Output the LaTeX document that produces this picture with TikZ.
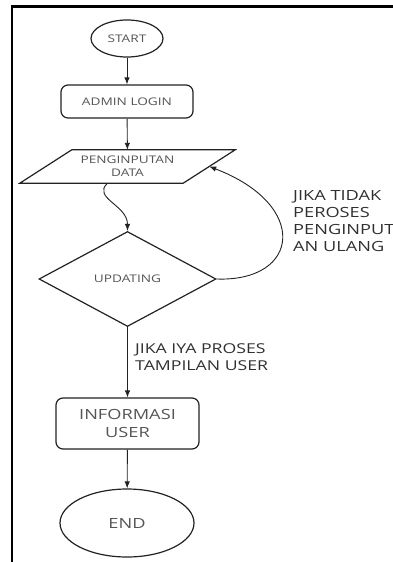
\documentclass[tikz,border=0pt]{standalone}
\usepackage{fontspec}
\setmainfont{Open Sans}[FakeStretch=1.3]
\usetikzlibrary{shapes.geometric,arrows.meta,calc}
\definecolor{ntext}{HTML}{555555}
\definecolor{ltext}{HTML}{303030}
\definecolor{edge}{HTML}{222222}
\begin{document}
\begin{tikzpicture}[x=1pt,y=-1pt,
  shapebox/.style={draw=edge,line width=1.2pt,text=ntext,inner sep=0pt,align=center},
  smallfont/.style={font=\fontsize{10.5}{13}\selectfont},
  bigfont/.style={font=\fontsize{14}{18}\selectfont},
  roundbox/.style={shapebox,rectangle,rounded corners=7pt},
  ovalbox/.style={shapebox,ellipse},
  conn/.style={draw=edge,line width=0.9pt,-{Latex[length=7pt,width=5.5pt]}},
  lbl/.style={text=ltext,align=left,inner sep=0pt}]
\useasboundingbox (0,0) rectangle (393,562);
% frame
\draw[line width=2.5pt,black] (393,6.5) -- (12,6.5) -- (12,562);
% nodes
\node[ovalbox,smallfont,minimum width=72pt,minimum height=37pt] (start) at (127,38.5) {START};
\node[roundbox,smallfont,minimum width=132pt,minimum height=33pt] (login) at (127,101.5) {ADMIN LOGIN};
\node[inner sep=0pt,text=ntext,align=center,smallfont,minimum width=163pt,minimum height=33pt] (input) at (127.5,166.5) {PENGINPUTAN\\DATA};
\draw[edge,line width=1.2pt,line join=miter]
  ([xshift=26pt]input.north west) -- ([xshift=26pt]input.north east)
  -- ([xshift=-26pt]input.south east) -- ([xshift=-26pt]input.south west) -- cycle;
\node[shapebox,diamond,smallfont,aspect=1.86,minimum width=177pt,minimum height=95pt] (upd) at (127.5,279) {UPDATING};
\node[roundbox,bigfont,minimum width=143pt,minimum height=51pt] (info) at (127.5,423.5) {INFORMASI\\USER};
\node[ovalbox,bigfont,minimum width=134pt,minimum height=68pt] (end) at (127,523) {END};
% labels
\node[lbl,anchor=north west,font=\fontsize{14}{17}\selectfont] (notlbl) at (293,190.5) {JIKA TIDAK\\PEROSES\\PENGINPUT\\AN ULANG};
\node[lbl,anchor=west,font=\fontsize{13.6}{16.5}\selectfont] (yeslbl) at (135,357) {JIKA IYA PROSES\\TAMPILAN USER};
% connectors
\draw[conn] (start) -- (login);
\draw[conn] (login) -- (input);
\draw[conn] ([xshift=-20pt]input.south) .. controls (92,198) and (127.5,205) .. (upd.north);
\draw[conn] (upd.east) .. controls (300,282) and (310,205) .. (input.east);
\draw[conn] (upd.south) -- (info.north);
\draw[conn] (info) -- (end);
\end{tikzpicture}
\end{document}
